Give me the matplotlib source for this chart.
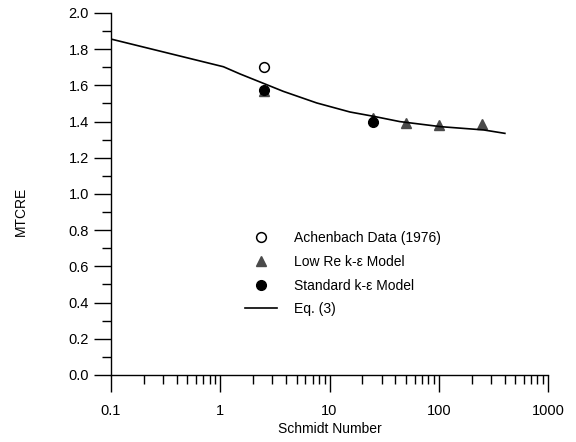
import numpy as np
import matplotlib
matplotlib.use("Agg")
import matplotlib.pyplot as plt

plt.rcParams['font.family'] = ['Liberation Sans', 'DejaVu Sans']

# Eq. (3) curve
eq_sc = [0.1, 1.07, 1.52, 2.16, 3.78, 7.64, 15.4, 25.4, 44, 104, 257, 403]
eq_mtcre = [1.856, 1.703, 1.663, 1.626, 1.567, 1.503, 1.453, 1.429, 1.40, 1.372, 1.354, 1.335]

# data points
ach_sc = [2.5]
ach_mtcre = [1.70]

lowre_sc = [2.5, 25, 50, 100, 250]
lowre_mtcre = [1.57, 1.42, 1.39, 1.38, 1.385]

std_sc = [2.5, 25]
std_mtcre = [1.575, 1.40]

fig = plt.figure(figsize=(5.76, 4.42), dpi=100)
ax = fig.add_axes([0.1927, 0.1516, 0.7587, 0.819])

ax.plot(ach_sc, ach_mtcre, 'o', mfc='white', mec='black', mew=1.1, ms=7,
        linestyle='none', label='Achenbach Data (1976)')
ax.plot(lowre_sc, lowre_mtcre, '^', color='#4a4a4a', ms=7.5,
        linestyle='none', label='Low Re k-ε Model')
ax.plot(std_sc, std_mtcre, 'o', color='black', ms=7,
        linestyle='none', label='Standard k-ε Model')
ax.plot(eq_sc, eq_mtcre, '-', color='black', lw=1.2, label='Eq. (3)')

ax.set_xscale('log')
ax.set_xlim(0.1, 1000)
ax.set_ylim(0, 2.0)
ax.set_yticks(np.arange(0, 2.01, 0.2))
ax.set_yticks(np.arange(0.1, 2.0, 0.2), minor=True)
ax.set_xticks([0.1, 1, 10, 100, 1000])
ax.set_xticklabels(['0.1', '1', '10', '100', '1000'])
ax.set_yticklabels(['%.1f' % v for v in np.arange(0, 2.01, 0.2)])

for s in ['top', 'right']:
    ax.spines[s].set_visible(False)
for s in ['left', 'bottom']:
    ax.spines[s].set_linewidth(1.0)

ax.tick_params(axis='both', which='major', length=12, width=1.0, direction='out', labelsize=10.5)
ax.tick_params(axis='both', which='minor', length=6.5, width=1.0, direction='out')
ax.tick_params(axis='x', which='major', pad=9)
ax.tick_params(axis='y', which='major', pad=4)

ax.set_xlabel('Schmidt Number', fontsize=10)
ax.set_ylabel('MTCRE', fontsize=10)
ax.xaxis.set_label_coords(0.5, -0.13)
ax.yaxis.set_label_coords(-0.19, 0.453)

ax.legend(loc='upper left', bbox_to_anchor=(0.425, 0.477), bbox_transform=fig.transFigure,
          frameon=False, fontsize=10, borderpad=0, borderaxespad=0,
          handlelength=2.35, handletextpad=1.2, labelspacing=0.7)

fig.savefig('out.png', dpi=100)
